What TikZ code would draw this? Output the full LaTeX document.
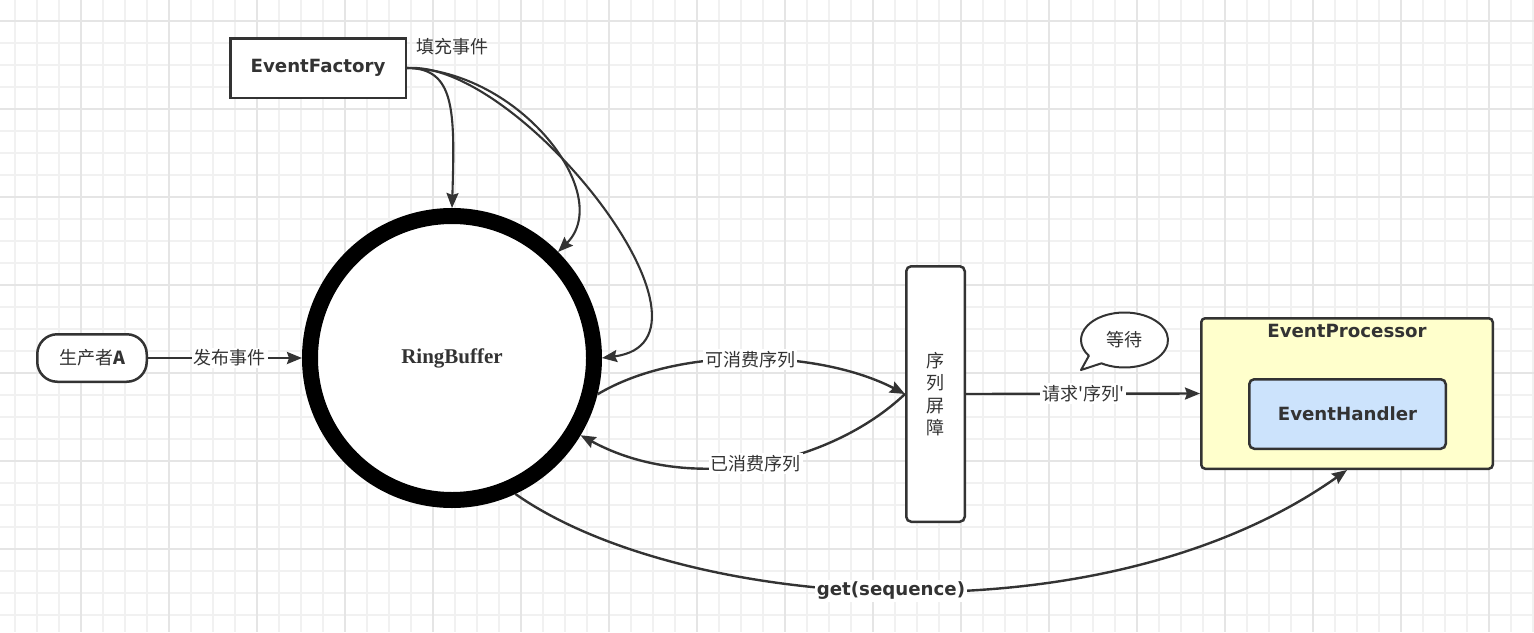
\documentclass[tikz,border=0pt]{standalone}
\usepackage{fontspec}
\usetikzlibrary{arrows.meta}
\newfontfamily\cjk{Noto Sans CJK SC}[Ligatures=TeXOff]
\newfontfamily\uisans{DejaVu Sans}
\newfontfamily\rbserif{Liberation Serif}
\newcommand\lblfont{\cjk\fontsize{18}{22}\selectfont}
\newcommand\boxfont{\uisans\bfseries\fontsize{18.2}{20}\selectfont}
\definecolor{ink}{HTML}{333333}
\definecolor{gridminor}{HTML}{F1F1F1}
\definecolor{gridmajor}{HTML}{E5E5E5}
\definecolor{procfill}{HTML}{FFFFCC}
\definecolor{handfill}{HTML}{CCE3FC}
\tikzset{
  box/.style={draw=ink, line width=2.5pt, fill=white, inner sep=0pt, text=ink},
  lbl/.style={fill=white, inner sep=2pt, text=ink, font=\lblfont},
  conn/.style={draw=ink, line width=2.4pt, -{Stealth[length=15pt,width=12pt,inset=2pt]}},
  thinconn/.style={conn, line width=2.1pt},
}
\begin{document}
\begin{tikzpicture}[x=1pt, y=-1pt]
% canvas and squared paper
\fill[white] (0,0) rectangle (1534,632);
\useasboundingbox (0,0) rectangle (1534,632);
\foreach \x in {15,37,...,1533} \draw[gridminor, line width=1.7pt] (\x,0) -- (\x,632);
\foreach \y in {-1,21,...,631} \draw[gridminor, line width=1.7pt] (0,\y) -- (1534,\y);
\foreach \x in {81,169,...,1489} \draw[gridmajor, line width=1.7pt] (\x,0) -- (\x,632);
\foreach \y in {21,109,...,549} \draw[gridmajor, line width=1.7pt] (0,\y) -- (1534,\y);

% nodes
\node[box, minimum width=175.5pt, minimum height=59.5pt, font=\boxfont] (ef) at (318,68) {EventFactory};
\node[text=ink, font=\lblfont] (fillevt) at (452,47) {填充事件};
\node[circle, draw=black, line width=16pt, fill=white, minimum size=284pt, inner sep=0pt, text=ink,
      font=\rbserif\bfseries\fontsize{21}{22}\selectfont] (rb) at (452,358) {RingBuffer};
\node[box, rounded corners=20pt, minimum width=109.5pt, minimum height=47.5pt, font=\lblfont] (prod) at (92,358) {生产者{\bfseries A}};
\node[box, rounded corners=5pt, minimum width=58.5pt, minimum height=255.5pt, align=center,
      font=\cjk\fontsize{18}{22.3}\selectfont] (bar) at (935.5,394) {序\\列\\屏\\障};
\node[box, fill=procfill, rounded corners=4pt, minimum width=291.5pt, minimum height=150.5pt] (ep) at (1347,393.5) {};
\node[text=ink, font=\boxfont] (eptitle) at (1347,331) {EventProcessor};
\node[box, fill=handfill, rounded corners=5pt, minimum width=196.5pt, minimum height=69.5pt, font=\boxfont] (eh) at (1347.5,414) {EventHandler};

% speech bubble
\draw[ink, line width=2pt, fill=white, line join=round] (1101.45,363.32)
  arc[start angle=122, end angle=-215, x radius=43.5, y radius=27.5] -- (1081,370) -- cycle;
\node[text=ink, font=\lblfont] (wait) at (1124.5,340) {等待};

% connectors
\draw[conn] (prod) -- (rb) node[lbl, pos=.53] {发布事件};
\draw[thinconn] (ef.east) .. controls (455,68) and (455,110) .. (rb.north);
\draw[thinconn] (ef.east) .. controls (520,70) and (615,195) .. (rb.45);
\draw[thinconn] (ef.east) .. controls (520,60) and (740,340) .. (rb.east);
\draw[conn] (rb.-14) .. controls (680,345) and (820,350) .. (bar.west) node[lbl, pos=.5] {可消费序列};
\draw[conn] (bar.west) .. controls (830,465) and (690,495) .. (rb.-31) node[lbl, pos=.5] {已消费序列};
\draw[conn] (bar.east) -- (ep.west) node[lbl, pos=.5] {请求'序列'};
\draw[conn] (rb.-65) .. controls (680,610) and (1100,645) .. (ep.south)
  node[fill=white, inner sep=2pt, text=ink, font=\boxfont, pos=.49] {get(sequence)};
\end{tikzpicture}
\end{document}
